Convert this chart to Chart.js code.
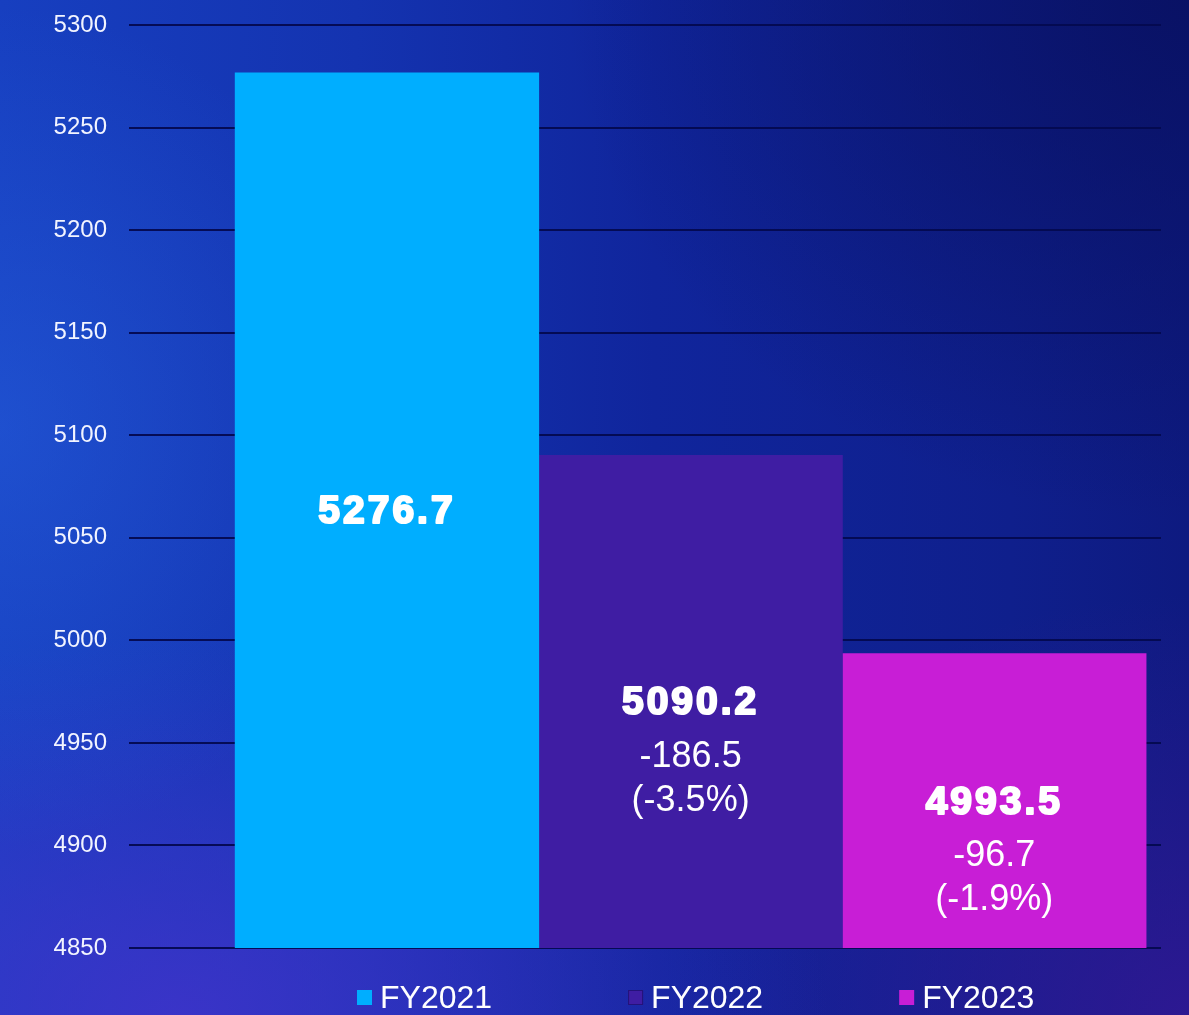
<!DOCTYPE html>
<html>
<head>
<meta charset="utf-8">
<script src="https://cdn.jsdelivr.net/npm/chart.js@4.4.1/dist/chart.umd.min.js"></script>
<style>
  html, body { margin: 0; padding: 0; overflow: hidden; }
  body {
    width: 1189px; height: 1015px;
    background:
      radial-gradient(ellipse 380px 420px at 0% 42%, rgba(40,100,225,0.45), rgba(40,100,225,0) 100%),
      radial-gradient(ellipse 620px 520px at 100% 0%, rgba(8,16,96,0.85), rgba(8,16,96,0) 100%),
      radial-gradient(ellipse 650px 380px at 15% 100%, rgba(70,50,205,0.75), rgba(70,50,205,0) 100%),
      radial-gradient(ellipse 520px 420px at 100% 100%, rgba(52,24,150,0.8), rgba(52,24,150,0) 100%),
      linear-gradient(to right, #173fc0 0%, #1433b0 30%, #10259c 55%, #0f1f8c 85%, #0e1a80 100%);
  }
  #wrap { position: absolute; left: 0; top: 0; width: 1189px; height: 1015px; }
</style>
</head>
<body>
<div id="wrap"><canvas id="chart"></canvas></div>
<script>
// ── data ──────────────────────────────────────────────────────────────────────
const categories = ['FY2021', 'FY2022', 'FY2023'];
const values     = [5276.7, 5090.2, 4993.5];
const changes    = [null, '-186.5', '-96.7'];
const changePct  = [null, '(-3.5%)', '(-1.9%)'];
const yTicks     = [4850, 4900, 4950, 5000, 5050, 5100, 5150, 5200, 5250, 5300];
const colors     = ['#00aeff', '#3f1da3', '#c81ed6'];

const FONT = '"Liberation Sans", Arial, sans-serif';

// Labels drawn inside each bar: value in heavy type, change below
const barLabels = {
  id: 'barLabels',
  afterDatasetsDraw(chart) {
    const { ctx, chartArea } = chart;
    ctx.save();
    ctx.fillStyle = '#ffffff';
    ctx.strokeStyle = '#ffffff';
    ctx.lineJoin = 'round';
    ctx.textAlign = 'center';
    ctx.textBaseline = 'middle';
    categories.forEach((c, i) => {
      const bar = chart.getDatasetMeta(i).data[0];
      const top = Math.max(bar.y, chartArea.top);
      const cy  = (top + chartArea.bottom) / 2 + 2;
      ctx.font = 'bold 39px ' + FONT;
      ctx.letterSpacing = '3px';
      ctx.lineWidth = 2.2;
      ctx.strokeText(values[i].toFixed(1), bar.x, cy);
      ctx.fillText(values[i].toFixed(1), bar.x, cy);
      ctx.letterSpacing = '0px';
      if (changes[i]) {
        ctx.font = '36px ' + FONT;
        ctx.fillText(changes[i], bar.x, cy + 53);
        ctx.fillText(changePct[i], bar.x, cy + 97);
      }
    });
    ctx.restore();
  },
};

// Legend row under the plot, centred under the middle bar
const bottomLegend = {
  id: 'bottomLegend',
  afterDraw(chart) {
    const { ctx, chartArea } = chart;
    const box = 15, gap = 8, spacing = 136;
    ctx.save();
    ctx.font = '32px ' + FONT;
    ctx.textBaseline = 'middle';
    ctx.textAlign = 'left';
    const widths = categories.map(c => box + gap + ctx.measureText(c).width);
    const total  = widths.reduce((a, b) => a + b, 0) + spacing * (widths.length - 1);
    let x = chart.getDatasetMeta(1).data[0].x + 5 - total / 2;
    const y = chartArea.bottom + 50;
    categories.forEach((c, i) => {
      ctx.fillStyle = colors[i];
      ctx.fillRect(x, y - 8, box, box);
      if (i === 1) {
        ctx.strokeStyle = '#24127a';
        ctx.lineWidth = 1;
        ctx.strokeRect(x + 0.5, y - 7.5, box - 1, box - 1);
      }
      ctx.fillStyle = '#ffffff';
      ctx.fillText(c, x + box + gap, y + 1);
      x += widths[i] + spacing;
    });
    ctx.restore();
  },
};

new Chart(document.getElementById('chart'), {
  type: 'bar',
  data: {
    datasets: categories.map((c, i) => ({
      label: c,
      data: [{ x: i + 1, y: values[i] }],
      backgroundColor: colors[i],
      borderWidth: 0,
      grouped: false,
      barPercentage: 1,
      categoryPercentage: 1,
    })),
  },
  options: {
    responsive: true,
    maintainAspectRatio: false,
    animation: false,
    layout: { padding: { top: 25, right: 28, bottom: 67, left: 0 } },
    plugins: {
      legend:  { display: false },
      tooltip: { enabled: false },
    },
    scales: {
      x: {
        type: 'linear',
        display: false,
        offset: false,
        min: 0.1505,
        max: 3.549,
        ticks: { stepSize: 1, includeBounds: false },
        grid: { display: false },
      },
      y: {
        min: yTicks[0],
        max: yTicks[yTicks.length - 1],
        afterBuildTicks: scale => { scale.ticks = yTicks.map(v => ({ value: v })); },
        afterFit: scale => {
          scale.width = 129;
          scale.paddingTop = 0;
          scale.paddingBottom = 0;
        },
        border: { display: false },
        grid: { color: 'rgba(4,10,80,0.95)', lineWidth: 2, drawTicks: false },
        ticks: {
          color: '#f2f4ff',
          padding: 22,
          font: { family: FONT, size: 24 },
          callback: v => String(v),
        },
      },
    },
  },
  plugins: [barLabels, bottomLegend],
});
</script>
</body>
</html>
